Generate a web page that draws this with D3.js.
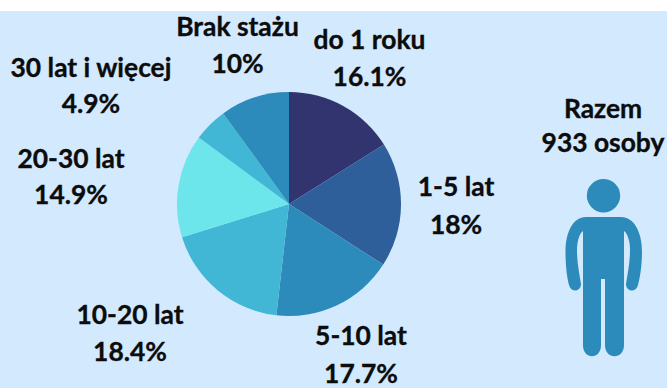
<!DOCTYPE html>
<html lang="pl">
<head>
    <meta charset="UTF-8">
    <title>Staż pracy</title>
    <script src="https://d3js.org/d3.v7.min.js"></script>
    <style>
        html, body { margin: 0; padding: 0; background: #fff; }
        svg { display: block; }
        text { font-family: Lato, sans-serif; font-weight: 700; font-size: 26.4px; fill: #0c0c0c; stroke: #0c0c0c; stroke-width: 0.35px; text-anchor: middle; }
    </style>
</head>
<body>
    <div id="chart"></div>
    <script>
        const categories = ['do 1 roku', '1-5 lat', '5-10 lat', '10-20 lat', '20-30 lat', '30 lat i więcej', 'Brak stażu'];
        const values = [16.1, 18, 17.7, 18.4, 14.9, 4.9, 10];
        const colors = ['#32346f', '#2e5f9a', '#2c8bba', '#41b7d5', '#6ce6ea', '#41b7d5', '#2c8bba'];
        const labelPositions = [[369.5, 49, 86], [456, 196, 234], [361, 345, 383], [130, 324, 361], [71, 168, 204], [91, 77, 113], [237.5, 36, 72.5]];

        const width = 667, height = 388;
        const svg = d3.select('#chart').append('svg')
            .attr('width', width)
            .attr('height', height);

        // light blue panel, white strip on top
        svg.append('rect')
            .attr('y', 11)
            .attr('width', width)
            .attr('height', height - 11)
            .attr('fill', '#d3e9fe');

        const pie = d3.pie().sort(null).value(d => d);
        const arc = d3.arc().innerRadius(0).outerRadius(112);

        svg.append('g')
            .attr('transform', 'translate(289,204)')
            .selectAll('path')
            .data(pie(values))
            .join('path')
            .attr('d', arc)
            .attr('fill', (d, i) => colors[i]);

        // labels: name on first line, percent on the second
        const labels = svg.append('g').selectAll('g')
            .data(categories)
            .join('g');
        labels.append('text')
            .attr('x', (d, i) => labelPositions[i][0])
            .attr('y', (d, i) => labelPositions[i][1])
            .text(d => d);
        labels.append('text')
            .attr('x', (d, i) => labelPositions[i][0])
            .attr('y', (d, i) => labelPositions[i][2])
            .text((d, i) => values[i] + '%');

        // total, right side
        svg.append('text').attr('x', 603).attr('y', 117.5).text('Razem');
        svg.append('text').attr('x', 603).attr('y', 152).text('933 osoby');

        // person icon
        const person = svg.append('g').attr('fill', '#2c8bba');
        person.append('circle').attr('cx', 603.5).attr('cy', 195.7).attr('r', 16.7);
        person.append('path').attr('d',
            'M586,217 L621,217 C634,217 642,232 642,252 C642,265 640,278 638,285 ' +
            'C636,293 626,292 626,284 C628,272 630,262 630,250 C630,242 628,234 624,231 ' +
            'L624,345 C624,360 605,360 605,345 L605,279 L601,279 L601,345 C601,360 583,360 583,345 ' +
            'L583,231 C579,234 577,242 577,250 C577,262 579,272 581,284 ' +
            'C581,292 571,293 569,285 C567,278 565.5,265 565.5,252 C565.5,232 573,217 586,217 Z');
    </script>
</body>
</html>
